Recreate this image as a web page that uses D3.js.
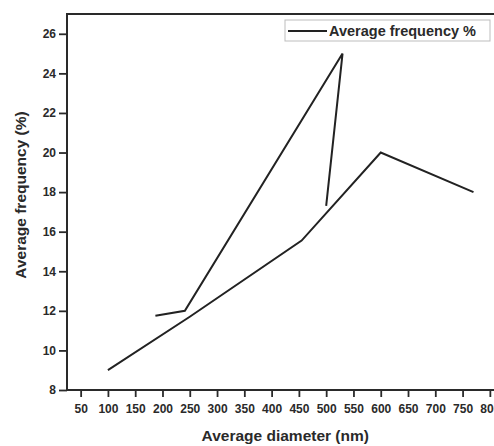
<!DOCTYPE html>
<html>
<head>
<meta charset="utf-8">
<script src="https://cdn.jsdelivr.net/npm/d3@7"></script>
<style>
  html, body { margin: 0; padding: 0; background: #fff; }
  svg { display: block; }
  text { font-family: "Liberation Sans", Arial, sans-serif; font-weight: bold; fill: #2a2a2a; }
</style>
</head>
<body>
<svg id="chart" width="494" height="446"></svg>
<script>
// Data (one series, drawn in two pieces)
const seriesName = "Average frequency %";
const partADiameter = [187, 241, 530, 500];
const partAFrequency = [11.75, 12.0, 25.0, 17.3];
const partBDiameter = [100, 250, 455, 600, 770];
const partBFrequency = [9.0, 11.7, 15.55, 20.0, 18.0];
const xTicks = [50, 100, 150, 200, 250, 300, 350, 400, 450, 500, 550, 600, 650, 700, 750, 800];
const yTicks = [8, 10, 12, 14, 16, 18, 20, 22, 24, 26];
const xLabel = "Average diameter (nm)";
const yLabel = "Average frequency (%)";

const svg = d3.select("#chart");
const plotLeft = 67, plotTop = 14, plotRight = 503.5, plotBottom = 390;

const x = d3.scaleLinear().domain([25, 825]).range([plotLeft, plotRight]);
const y = d3.scaleLinear().domain([8, 27]).range([plotBottom, plotTop]);

const ink = "#2a2a2a";

// X axis
const xAxis = svg.append("g")
  .attr("transform", `translate(0,${plotBottom})`)
  .call(d3.axisBottom(x).tickValues(xTicks).tickSize(7).tickSizeOuter(0).tickFormat(d3.format("d")));
xAxis.select(".domain").remove();
xAxis.selectAll(".tick line").attr("stroke", ink).attr("stroke-width", 1.8);
xAxis.selectAll(".tick text").attr("y", 23).attr("dy", null)
  .style("font-size", "12px").attr("fill", ink);

// Y axis
const yAxis = svg.append("g")
  .attr("transform", `translate(${plotLeft},0)`)
  .call(d3.axisLeft(y).tickValues(yTicks).tickSize(8).tickSizeOuter(0).tickFormat(d3.format("d")));
yAxis.select(".domain").remove();
yAxis.selectAll(".tick line").attr("stroke", ink).attr("stroke-width", 1.8);
yAxis.selectAll(".tick text").attr("x", -11)
  .style("font-size", "12px").attr("fill", ink);

// Frame
svg.append("rect")
  .attr("x", plotLeft).attr("y", plotTop)
  .attr("width", plotRight - plotLeft).attr("height", plotBottom - plotTop)
  .attr("fill", "none").attr("stroke", ink).attr("stroke-width", 2);

// Lines
const line = d3.line().x(d => x(d[0])).y(d => y(d[1]));
const parts = [
  d3.zip(partADiameter, partAFrequency),
  d3.zip(partBDiameter, partBFrequency)
];
svg.append("g").selectAll("path").data(parts).join("path")
  .attr("d", line)
  .attr("fill", "none").attr("stroke", "#222").attr("stroke-width", 2)
  .attr("stroke-linejoin", "miter");

// Legend
const lg = svg.append("g");
lg.append("rect").attr("x", 285).attr("y", 20).attr("width", 205).attr("height", 21)
  .attr("fill", "#fff").attr("stroke", "#bdbdbd").attr("stroke-width", 1);
lg.append("line").attr("x1", 288).attr("x2", 327).attr("y1", 31).attr("y2", 31)
  .attr("stroke", "#222").attr("stroke-width", 2);
lg.append("text").attr("x", 329).attr("y", 36).style("font-size", "14.5px").text(seriesName);

// Axis titles
svg.append("text").attr("x", (plotLeft + plotRight) / 2).attr("y", 441)
  .attr("text-anchor", "middle").style("font-size", "15.5px").text(xLabel);
svg.append("text").attr("transform", "translate(26,195) rotate(-90)")
  .attr("text-anchor", "middle").style("font-size", "15.5px").text(yLabel);
</script>
</body>
</html>
